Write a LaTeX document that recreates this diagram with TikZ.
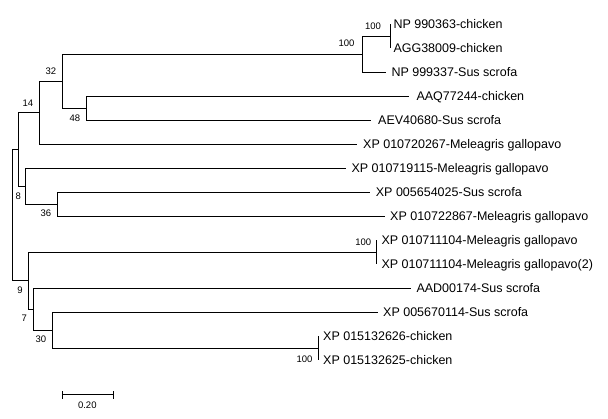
\documentclass[tikz,border=0pt]{standalone}
\usepackage{fontspec}
\setmainfont{Liberation Sans}
\begin{document}
\begin{tikzpicture}[x=1pt,y=-1pt,
  br/.style={line width=1pt,line join=miter},
  leaf/.style={anchor=base west,inner sep=0pt,font=\fontsize{12.5}{14}\selectfont},
  boot/.style={inner sep=0pt,font=\fontsize{9.5}{11}\selectfont}]
\useasboundingbox (0,0) rectangle (608,419);
% internal nodes
\coordinate (root) at (12.3,215.2);
\coordinate (nU) at (18.3,149.55);
\coordinate (n14) at (39.7,112.8);
\coordinate (n32) at (62.3,81.3);
\coordinate (nB) at (362.3,54.3);
\coordinate (nA) at (390,36.3);
\coordinate (n48) at (86.7,108.3);
\coordinate (n8) at (25,186.3);
\coordinate (n36) at (57.7,204.3);
\coordinate (n9) at (28.3,280.8);
\coordinate (nC) at (376.7,252.3);
\coordinate (n7) at (33.3,309.3);
\coordinate (n30) at (52.3,330.3);
\coordinate (nD) at (318.3,348.3);
% leaf ends
\coordinate (e0) at (390,24.3);
\coordinate (e1) at (390,48.3);
\coordinate (e2) at (385.7,72.3);
\coordinate (e3) at (409,96.3);
\coordinate (e4) at (370.7,120.3);
\coordinate (e5) at (356.7,144.3);
\coordinate (e6) at (345.7,168.3);
\coordinate (e7) at (369.7,192.3);
\coordinate (e8) at (384.7,216.3);
\coordinate (e9) at (376.7,240.3);
\coordinate (e10) at (376.7,264.3);
\coordinate (e11) at (411.3,288.3);
\coordinate (e12) at (378,312.3);
\coordinate (e13) at (318.3,336.3);
\coordinate (e14) at (318.3,360.3);
% branches
\draw[br] (root) |- (nU); \draw[br] (root) |- (n9);
\draw[br] (nU) |- (n14); \draw[br] (nU) |- (n8);
\draw[br] (n14) |- (n32); \draw[br] (n14) |- (e5);
\draw[br] (n32) |- (nB); \draw[br] (n32) |- (n48);
\draw[br] (nB) |- (nA); \draw[br] (nB) |- (e2);
\draw[br] (nA) |- (e0); \draw[br] (nA) |- (e1);
\draw[br] (n48) |- (e3); \draw[br] (n48) |- (e4);
\draw[br] (n8) |- (e6); \draw[br] (n8) |- (n36);
\draw[br] (n36) |- (e7); \draw[br] (n36) |- (e8);
\draw[br] (n9) |- (nC); \draw[br] (n9) |- (n7);
\draw[br] (nC) |- (e9); \draw[br] (nC) |- (e10);
\draw[br] (n7) |- (e11); \draw[br] (n7) |- (n30);
\draw[br] (n30) |- (e12); \draw[br] (n30) |- (nD);
\draw[br] (nD) |- (e13); \draw[br] (nD) |- (e14);
% leaf labels
\node[leaf] (t0) at (393.3,28.8) {NP 990363-chicken};
\node[leaf] (t1) at (393.3,52.8) {AGG38009-chicken};
\node[leaf] (t2) at (391.3,76.8) {NP 999337-Sus scrofa};
\node[leaf] (t3) at (416.3,100.8) {AAQ77244-chicken};
\node[leaf] (t4) at (378,124.8) {AEV40680-Sus scrofa};
\node[leaf] (t5) at (363,148.8) {XP 010720267-Meleagris gallopavo};
\node[leaf] (t6) at (351.3,172.8) {XP 010719115-Meleagris gallopavo};
\node[leaf] (t7) at (375.7,196.8) {XP 005654025-Sus scrofa};
\node[leaf] (t8) at (390,220.8) {XP 010722867-Meleagris gallopavo};
\node[leaf] (t9) at (381.3,244.8) {XP 010711104-Meleagris gallopavo};
\node[leaf] (t10) at (381.3,268.8) {XP 010711104-Meleagris gallopavo(2)};
\node[leaf] (t11) at (416.3,292.8) {AAD00174-Sus scrofa};
\node[leaf] (t12) at (383,316.8) {XP 005670114-Sus scrofa};
\node[leaf] (t13) at (323,340.8) {XP 015132626-chicken};
\node[leaf] (t14) at (323,364.8) {XP 015132625-chicken};
% bootstrap values
\node[boot] (bA) at (373,26.5) {100};
\node[boot] (bB) at (346.5,43.5) {100};
\node[boot] (b32) at (51,71) {32};
\node[boot] (b14) at (28,103) {14};
\node[boot] (b48) at (75,118) {48};
\node[boot] (b8) at (18.3,196.7) {8};
\node[boot] (b36) at (46,213) {36};
\node[boot] (bC) at (363.3,242.3) {100};
\node[boot] (b9) at (20,290) {9};
\node[boot] (b7) at (24.3,318.3) {7};
\node[boot] (b30) at (41,339.3) {30};
\node[boot] (bD) at (304.5,359) {100};
% scale bar
\coordinate (s1) at (62.3,395);
\coordinate (s2) at (113.3,395);
\draw[br] (s1) -- (s2);
\draw[br] ([yshift=-4pt]s1) -- ([yshift=4pt]s1);
\draw[br] ([yshift=-4pt]s2) -- ([yshift=4pt]s2);
\node[boot] (sl) at (87.3,405.5) {0.20};
\end{tikzpicture}
\end{document}
